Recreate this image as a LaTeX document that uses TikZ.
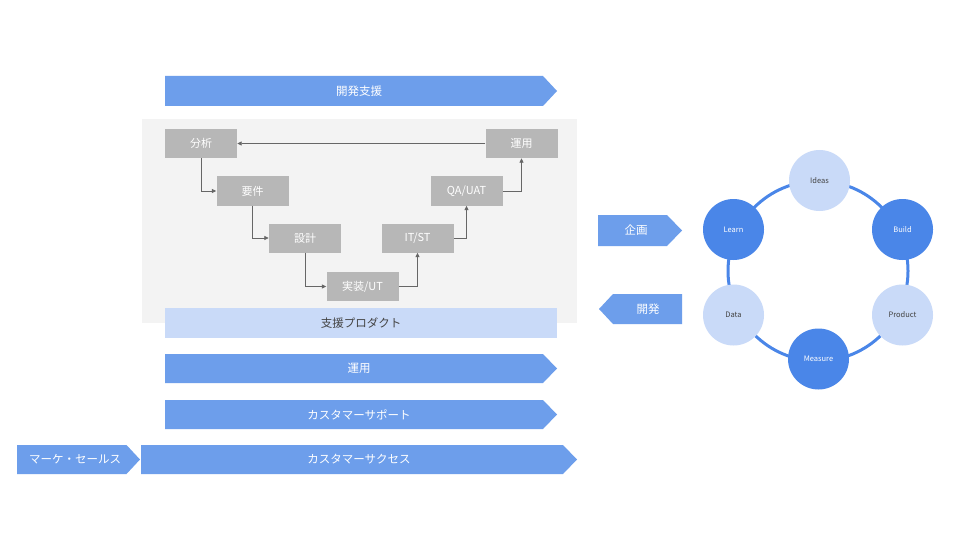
\documentclass[tikz,border=0pt]{standalone}
\usepackage{fontspec}
\setmainfont{Noto Sans CJK JP}
\usetikzlibrary{arrows.meta}
\definecolor{arrfill}{HTML}{6D9EEB}
\definecolor{cdark}{HTML}{4A86E8}
\definecolor{clight}{HTML}{C9DAF8}
\definecolor{bggray}{HTML}{F3F3F3}
\definecolor{boxgray}{HTML}{B7B7B7}
\definecolor{linegray}{HTML}{666666}
\definecolor{txtdark}{HTML}{434343}
\tikzset{
  vbox/.style={fill=boxgray, text=white, minimum width=72pt, minimum height=29pt, inner sep=0pt, font=\fontsize{11}{13}\selectfont},
  flow/.style={draw=linegray, line width=0.8pt, -{Triangle[length=4.5pt,width=4pt]}},
  albl/.style={text=white, inner sep=0pt, font=\fontsize{11.5}{13}\selectfont},
  arrshape/.style={fill=arrfill},
  dcirc/.style={circle, fill=cdark, minimum size=61pt, inner sep=0pt, text=white, font=\fontsize{7.5}{9}\selectfont},
  lcirc/.style={circle, fill=clight, minimum size=61pt, inner sep=0pt, text=txtdark, font=\fontsize{7.5}{9}\selectfont},
}
\begin{document}
\begin{tikzpicture}[x=1pt,y=-1pt]
\useasboundingbox[fill=white] (0,0) rectangle (960,540);

% top arrow
\fill[arrshape] (165,76) -- (543,76) -- (557,91) -- (543,106) -- (165,106) -- cycle;
\node[albl] (kaihatsushien) at (359,91) {開発支援};

% gray background
\fill[bggray] (142,119) rectangle (577,323);

% V-model boxes
\node[vbox] (bunseki) at (201,143.5) {分析};
\node[vbox] (unyo1) at (521.5,143.5) {運用};
\node[vbox] (yoken) at (252.5,191) {要件};
\node[vbox] (qa) at (466.5,191) {QA/UAT};
\node[vbox] (sekkei) at (305,238) {設計};
\node[vbox] (itst) at (417.5,238) {IT/ST};
\node[vbox] (jisso) at (362.5,286.5) {実装/UT};

\draw[flow] (unyo1.west) -- (bunseki.east);
\draw[flow] (bunseki.south) |- (yoken.west);
\draw[flow] (yoken.south) |- (sekkei.west);
\draw[flow] (sekkei.south) |- (jisso.west);
\draw[flow] (jisso.east) -| (itst.south);
\draw[flow] (itst.east) -| (qa.south);
\draw[flow] (qa.east) -| (unyo1.south);

% support product bar
\fill[clight] (165,308) rectangle (557,338);
\node[inner sep=0pt, text=txtdark, font=\fontsize{11.5}{13}\selectfont] (shienprod) at (361,323) {支援プロダクト};

% lower arrows
\fill[arrshape] (165,354) -- (543,354) -- (557,368.5) -- (543,383) -- (165,383) -- cycle;
\node[albl] (unyo2) at (359,368.5) {運用};
\fill[arrshape] (165,400) -- (543,400) -- (557,414.5) -- (543,429) -- (165,429) -- cycle;
\node[albl] (support) at (359,414.5) {カスタマーサポート};
\fill[arrshape] (141,445) -- (563,445) -- (577,459.5) -- (563,474) -- (141,474) -- cycle;
\node[albl] (success) at (359,459.5) {カスタマーサクセス};
\fill[arrshape] (17,445) -- (126.5,445) -- (140,459.5) -- (126.5,474) -- (17,474) -- cycle;
\node[albl] (marke) at (75,459.5) {マーケ・セールス};

% side arrows
\fill[arrshape] (598,215) -- (667,215) -- (682,230.5) -- (667,246) -- (598,246) -- cycle;
\node[albl] (kikaku) at (636,230.5) {企画};
\fill[arrshape] (682,294) -- (613,294) -- (599,309) -- (613,324) -- (682,324) -- cycle;
\node[albl] (kaihatsu) at (648,309) {開発};

% cycle
\coordinate (ringc) at (818,271);
\draw[cdark, line width=3pt] (ringc) circle[radius=90];
\node[lcirc] (ideas) at (819.5,180.5) {Ideas};
\node[dcirc] (build) at (902.5,229.5) {Build};
\node[lcirc] (product) at (902.5,315) {Product};
\node[dcirc] (measure) at (818.5,359) {Measure};
\node[lcirc] (data) at (733.5,315) {Data};
\node[dcirc] (learn) at (733.5,229.5) {Learn};
\end{tikzpicture}
\end{document}
